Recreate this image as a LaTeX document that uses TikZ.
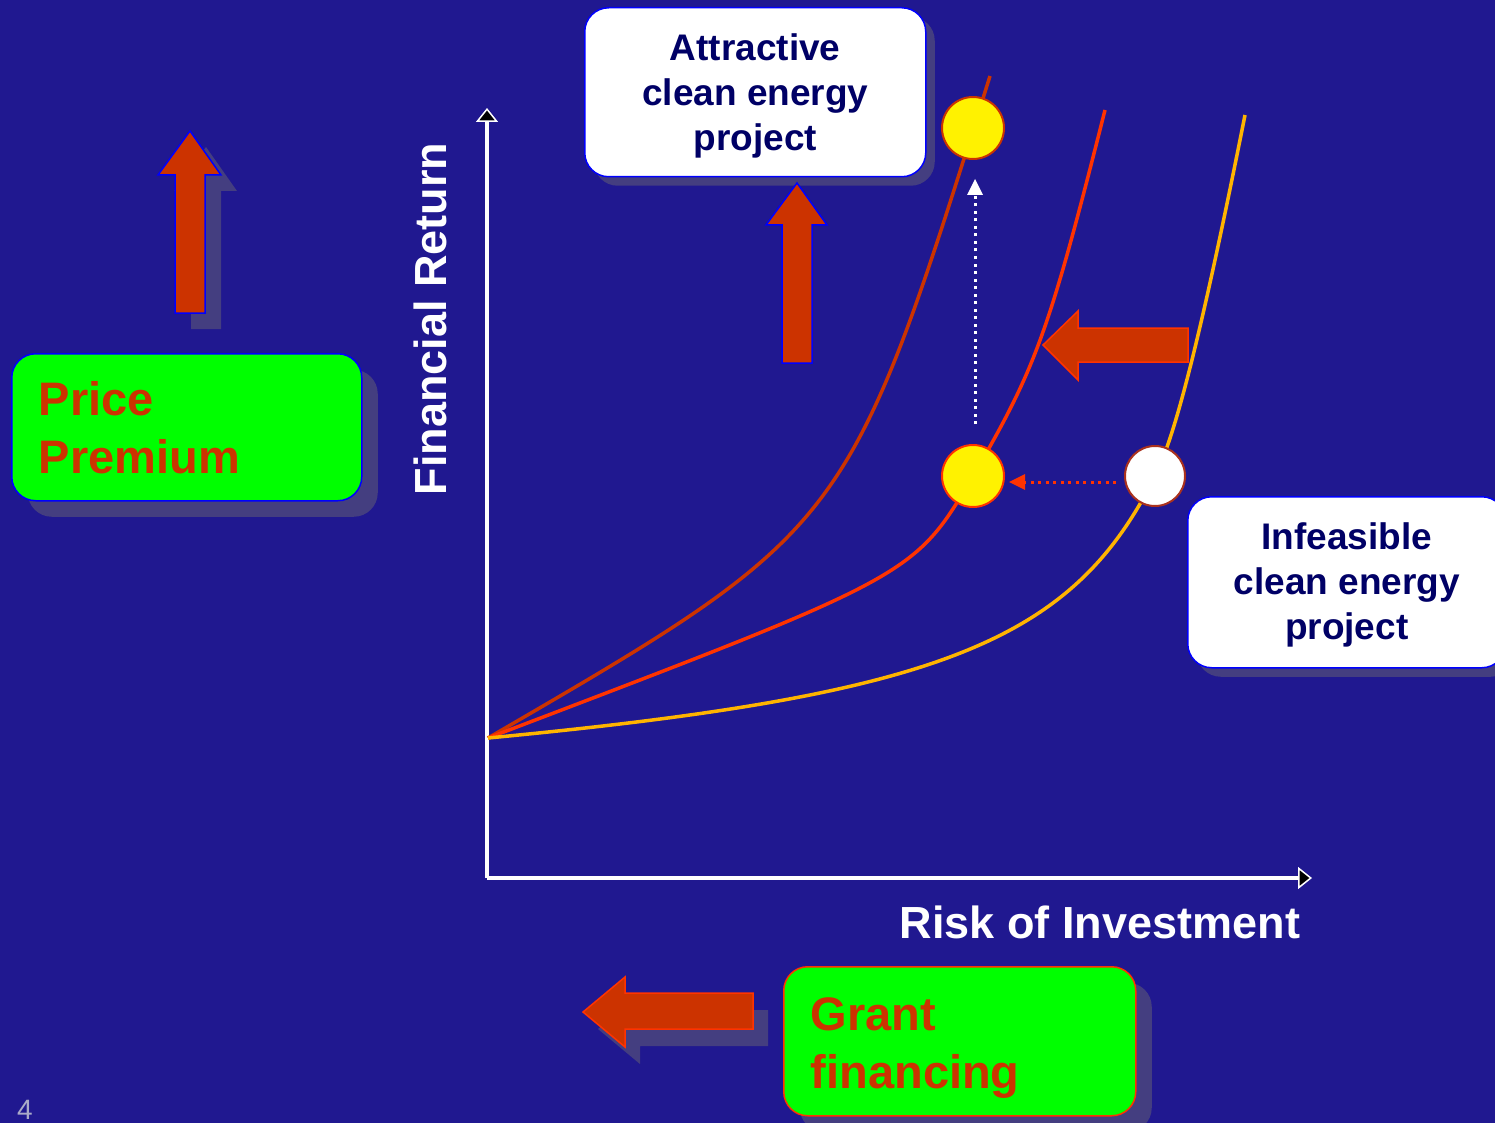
\documentclass[tikz,border=0pt]{standalone}
\usepackage{fontspec}
\setmainfont{Liberation Sans}
\usetikzlibrary{arrows.meta,shadows}
\definecolor{bgc}{RGB}{32,24,144}
\definecolor{shadowc}{RGB}{68,62,128}
\definecolor{darkorange}{RGB}{204,51,0}
\definecolor{brightred}{RGB}{255,51,0}
\definecolor{goldc}{RGB}{255,180,0}
\definecolor{greenc}{RGB}{0,255,0}
\definecolor{navyc}{RGB}{0,0,102}
\definecolor{bluec}{RGB}{0,0,255}
\definecolor{pagec}{RGB}{170,170,200}
\definecolor{wborder}{RGB}{170,50,30}
\begin{document}
\begin{tikzpicture}[x=1pt,y=-1pt,
  greenbox/.style={draw, line width=1.5pt, fill=greenc, rounded corners=24pt,
    text=darkorange, align=left, inner xsep=27pt, inner ysep=0pt,
    font=\fontsize{47pt}{58pt}\selectfont\bfseries,
    general shadow={fill=shadowc, shadow xshift=16pt, shadow yshift=-16pt}},
  whitebox/.style={draw=bluec, line width=1.5pt, fill=white, rounded corners=24pt,
    text=navyc, align=center, inner sep=0pt,
    font=\fontsize{37pt}{45pt}\selectfont\bfseries,
    general shadow={fill=shadowc, shadow xshift=9pt, shadow yshift=-9pt}},
  blockarrow/.style={fill=darkorange, line width=1.5pt, line join=miter},
  curve/.style={line width=3.5pt},
  dot/.style={circle, minimum size=62pt, inner sep=0pt, line width=2pt},
  axis/.style={draw=white, line width=4pt},
  axtip/.style={-{Triangle[fill=black, width=22pt, length=14pt, line width=1.5pt]}},
  axlabel/.style={text=white, font=\fontsize{45pt}{54pt}\selectfont\bfseries, inner sep=0pt},
  dotarrow/.style={line width=3pt, dash pattern=on 3pt off 4.5pt,
    -{Triangle[width=16pt, length=16pt, line width=0pt]}}
]
\fill[bgc] (0,0) rectangle (1495,1123);
\useasboundingbox (0,0) rectangle (1495,1123);

% ---- left up arrow (shadow + arrow)
\fill[shadowc, shift={(16,16)}] (190,131) -- (221,175) -- (205,175) -- (205,313) -- (175,313) -- (175,175) -- (158,175) -- cycle;
\draw[blockarrow, draw=bluec] (190,131) -- (221,175) -- (205,175) -- (205,313) -- (175,313) -- (175,175) -- (158,175) -- cycle;

% ---- bottom left arrow (shadow + arrow)
\fill[shadowc, shift={(15,17)}] (583,1012) -- (625,977) -- (625,993) -- (753,993) -- (753,1029) -- (625,1029) -- (625,1047) -- cycle;
\draw[blockarrow, draw=brightred] (583,1012) -- (625,977) -- (625,993) -- (753,993) -- (753,1029) -- (625,1029) -- (625,1047) -- cycle;

% ---- boxes
\node[greenbox, draw=bluec, minimum width=350pt, minimum height=147pt, text width=296pt, anchor=north west] (price) at (11,353) {Price\\Premium};
\node[greenbox, draw=brightred, minimum width=352pt, minimum height=149pt, text width=298pt, anchor=north west] (grant) at (783,966) {\rule{0pt}{46pt}Grant\\financing};
\node[whitebox, minimum width=341pt, minimum height=169pt, anchor=north west] (attr) at (584,7) {\rule{0pt}{35pt}Attractive\\clean energy\\project};
\node[whitebox, minimum width=318pt, minimum height=171pt, anchor=north west] (infeas) at (1187,496) {\rule{0pt}{33pt}Infeasible\\clean energy\\project};

% ---- middle up arrow
\draw[blockarrow, draw=bluec] (797,183) -- (827,225) -- (812,225) -- (812,363) -- (782,363) -- (782,225) -- (766,225) -- cycle;

% ---- axes
\coordinate (O) at (487,878);
\coordinate (ytop) at (487,108);
\coordinate (xend) at (1312,878);
\coordinate (c0) at (488,738);
\draw[axis, axtip] (O) -- (ytop);
\draw[axis, axtip] (O) -- (xend);
\node[axlabel, rotate=90] (ylab) at (430,319) {Financial Return};
\node[axlabel] (xlab) at (1100,922) {Risk of Investment};

% ---- curves
\draw[curve, darkorange] (c0) .. controls (848,529) and (848,529) .. (990,76);
\draw[curve, brightred] (c0) .. controls (914,576) and (914,576) .. (973,476)
   .. controls (1036,368) and (1049,332) .. (1105,110);
\draw[curve, goldc] (c0) .. controls (938,695) and (1072,643) .. (1155,476)
   .. controls (1176,435) and (1203,326) .. (1245,115);

% ---- right big arrow
\draw[blockarrow, draw=brightred] (1043,345) -- (1078,311) -- (1078,328) -- (1188,328) -- (1188,362) -- (1078,362) -- (1078,380) -- cycle;

% ---- circles
\node[dot, draw=darkorange, fill=yellow] (ytopc) at (973,128) {};
\node[dot, draw=brightred, fill=yellow] (ymid) at (973,476) {};
\node[dot, draw=wborder, fill=white, minimum size=60pt] (wcirc) at (1155,476) {};

% ---- dotted arrows
\draw[dotarrow, white] ([xshift=2pt,yshift=20pt]ymid.north) -- ([xshift=2pt,yshift=-19pt]ytopc.south);
\draw[dotarrow, brightred] ([shift={(-8pt,-6pt)}]wcirc.west) -- ([shift={(4pt,-6pt)}]ymid.east);

% ---- page number
\node[text=pagec, font=\fontsize{28pt}{30pt}\selectfont, inner sep=0pt] (pnum) at (25,1110) {4};
\end{tikzpicture}
\end{document}
